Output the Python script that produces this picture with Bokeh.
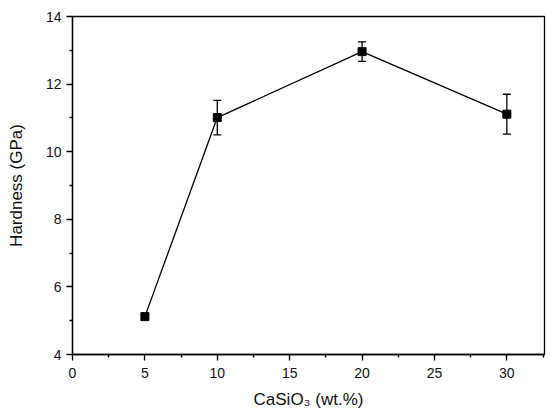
from bokeh.plotting import figure
from bokeh.models import ColumnDataSource, Whisker, TeeHead, Range1d, FixedTicker
from bokeh.embed import file_html
from bokeh.resources import INLINE

x_vals = [5, 10, 20, 30]
hardness = [5.12, 11.01, 12.96, 11.11]
err = [0.11, 0.51, 0.29, 0.59]

x_ticks = [0, 5, 10, 15, 20, 25, 30]
y_ticks = [4, 6, 8, 10, 12, 14]

src = ColumnDataSource(dict(
    x=x_vals, y=hardness,
    lo=[h - e for h, e in zip(hardness, err)],
    hi=[h + e for h, e in zip(hardness, err)],
))

p = figure(width=550, height=416, output_backend="svg", toolbar_location=None,
           x_range=Range1d(0, 32.6), y_range=Range1d(4, 14),
           min_border_left=72, min_border_right=6, min_border_top=16, min_border_bottom=62)

p.xgrid.visible = False
p.ygrid.visible = False
p.outline_line_color = "black"
p.outline_line_width = 1.3
p.background_fill_color = "white"
p.border_fill_color = "white"

p.line("x", "y", source=src, line_color="black", line_width=1.3)
w = Whisker(source=src, base="x", upper="hi", lower="lo", dimension="height",
            line_color="black", line_width=1.3)
w.upper_head = TeeHead(size=8, line_color="black", line_width=1.3)
w.lower_head = TeeHead(size=8, line_color="black", line_width=1.3)
p.add_layout(w)
p.scatter("x", "y", source=src, marker="square", size=8, color="black")

font = "Liberation Sans"
for ax in (p.xaxis[0], p.yaxis[0]):
    ax.axis_line_color = "black"
    ax.axis_line_width = 1.3
    ax.major_tick_line_color = "black"
    ax.minor_tick_line_color = "black"
    ax.major_tick_line_width = 1.3
    ax.minor_tick_line_width = 1.3
    ax.major_tick_out = 6
    ax.major_tick_in = 0
    ax.minor_tick_out = 3
    ax.minor_tick_in = 0
    ax.major_label_text_font = font
    ax.major_label_text_font_size = "14px"
    ax.major_label_text_color = "#111111"
    ax.axis_label_text_font = font
    ax.axis_label_text_font_size = "17px"
    ax.axis_label_text_font_style = "normal"
    ax.axis_label_text_color = "#111111"

p.xaxis[0].ticker = FixedTicker(ticks=x_ticks, minor_ticks=[2.5, 7.5, 12.5, 17.5, 22.5, 27.5, 32.5])
p.yaxis[0].ticker = FixedTicker(ticks=y_ticks, minor_ticks=[5, 7, 9, 11, 13])
p.xaxis[0].axis_label = "CaSiO₃ (wt.%)"
p.yaxis[0].axis_label = "Hardness (GPa)"
p.xaxis[0].major_label_standoff = 7
p.yaxis[0].major_label_standoff = 5
p.xaxis[0].axis_label_standoff = 9
p.yaxis[0].axis_label_standoff = 17

open("out.html", "w").write(file_html(p, INLINE))
